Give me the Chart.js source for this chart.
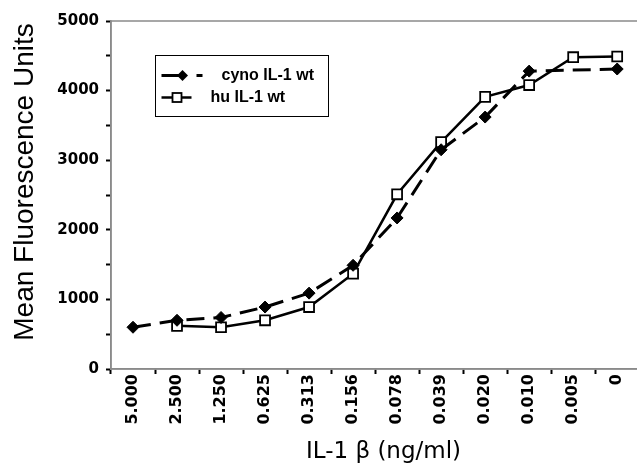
<!DOCTYPE html>
<html>
<head>
<meta charset="utf-8">
<script src="https://cdn.jsdelivr.net/npm/chart.js@4.4.0/dist/chart.umd.min.js"></script>
<style>
    html, body { margin: 0; padding: 0; background: #fff; overflow: hidden; }
    #wrap { width: 648px; height: 468px; }
</style>
</head>
<body>
<div id="wrap"><canvas id="fluorChart" width="648" height="468"></canvas></div>
<script>
// Data
const doseLabels = ['5.000', '2.500', '1.250', '0.625', '0.313', '0.156', '0.078', '0.039', '0.020', '0.010', '0.005', '0'];
const cynoValues = [600, 700, 740, 890, 1090, 1490, 2170, 3150, 3620, 4280, null, 4310];
const huValues = [null, 620, 600, 700, 890, 1370, 2510, 3260, 3910, 4080, 4480, 4490];
const seriesNames = ['cyno IL-1 wt', 'hu IL-1 wt'];
const xTitle = 'IL-1 β (ng/ml)';
const yTitle = 'Mean Fluorescence Units';

const axisGray = '#8a8a8a';

// Frame around the plot area (top line is visible in the original)
const plotFrame = {
    id: 'plotFrame',
    beforeDatasetsDraw(chart) {
        const { ctx, chartArea: ca } = chart;
        ctx.save();
        ctx.strokeStyle = axisGray;
        ctx.lineWidth = 1.5;
        ctx.strokeRect(ca.left, ca.top, ca.right - ca.left, ca.bottom - ca.top);
        ctx.restore();
    }
};

// Axis titles, placed a bit off-centre like the original
const axisTitles = {
    id: 'axisTitles',
    afterDraw(chart) {
        const { ctx, chartArea: ca } = chart;
        ctx.save();
        ctx.fillStyle = '#000';
        ctx.textAlign = 'center';
        ctx.textBaseline = 'alphabetic';

        ctx.font = '23px "DejaVu Sans", sans-serif';
        ctx.fillText(xTitle, 383.5, ca.bottom + 89);

        ctx.font = '28px "Liberation Sans", Arial, sans-serif';
        ctx.translate(33, ca.top + (ca.bottom - ca.top) / 2 - 13);
        ctx.rotate(-Math.PI / 2);
        ctx.fillText(yTitle, 0, 0);
        ctx.restore();
    }
};

// Legend box drawn inside the plot, Excel style
const legendBox = {
    id: 'legendBox',
    afterDraw(chart) {
        const { ctx, chartArea: ca } = chart;
        const x = Math.round(ca.left + 44) + 0.5;
        const y = Math.round(ca.top + 34) + 0.5;
        const r1 = y + 20, r2 = y + 42;

        ctx.save();
        ctx.fillStyle = '#fff';
        ctx.fillRect(x, y, 173, 61);
        ctx.strokeStyle = '#000';
        ctx.lineWidth = 1;
        ctx.strokeRect(x, y, 173, 61);

        // cyno sample: dashed line + filled diamond
        ctx.lineWidth = 3;
        ctx.beginPath();
        ctx.moveTo(x + 6, r1); ctx.lineTo(x + 24, r1);
        ctx.moveTo(x + 41, r1); ctx.lineTo(x + 47, r1);
        ctx.stroke();
        ctx.fillStyle = '#000';
        ctx.beginPath();
        ctx.moveTo(x + 27, r1 - 5.5);
        ctx.lineTo(x + 32.5, r1);
        ctx.lineTo(x + 27, r1 + 5.5);
        ctx.lineTo(x + 21.5, r1);
        ctx.closePath();
        ctx.fill();

        // hu sample: solid line + open square
        ctx.lineWidth = 2.5;
        ctx.beginPath();
        ctx.moveTo(x + 6, r2); ctx.lineTo(x + 36, r2);
        ctx.stroke();
        ctx.fillStyle = '#fff';
        ctx.lineWidth = 1.8;
        ctx.fillRect(x + 17, r2 - 4.5, 9, 9);
        ctx.strokeRect(x + 17, r2 - 4.5, 9, 9);

        ctx.fillStyle = '#000';
        ctx.font = 'bold 16px "Liberation Sans", Arial, sans-serif';
        ctx.textBaseline = 'middle';
        ctx.fillText(seriesNames[0], x + 66, r1);
        ctx.fillText(seriesNames[1], x + 55, r2);
        ctx.restore();
    }
};

const ctx = document.getElementById('fluorChart').getContext('2d');
const chart = new Chart(ctx, {
    type: 'line',
    data: {
        labels: doseLabels,
        datasets: [
            {
                label: seriesNames[0],
                data: cynoValues,
                borderColor: '#000',
                backgroundColor: '#000',
                borderWidth: 3,
                borderDash: [18, 9],
                pointStyle: 'rectRot',
                pointRadius: 6,
                pointBorderWidth: 1,
                pointBackgroundColor: '#000',
                pointBorderColor: '#000',
                spanGaps: true,
                tension: 0
            },
            {
                label: seriesNames[1],
                data: huValues,
                borderColor: '#000',
                backgroundColor: '#fff',
                borderWidth: 2.5,
                pointStyle: 'rect',
                pointRadius: 7,
                pointBorderWidth: 1.8,
                pointBackgroundColor: '#fff',
                pointBorderColor: '#000',
                tension: 0
            }
        ]
    },
    options: {
        responsive: false,
        animation: false,
        layout: { padding: { top: 21, right: 2, left: 0, bottom: 0 } },
        scales: {
            x: {
                offset: true,
                afterFit: (scale) => { scale.height = 99; },
                grid: {
                    offset: true,
                    drawOnChartArea: false,
                    tickLength: 5,
                    tickWidth: 2,
                    tickColor: '#000'
                },
                border: { color: axisGray, width: 1.5 },
                ticks: {
                    minRotation: 90,
                    maxRotation: 90,
                    padding: 0,
                    color: '#000',
                    font: { family: '"DejaVu Sans", sans-serif', weight: 'bold', size: 16 }
                },
                title: { display: false }
            },
            y: {
                min: 0,
                max: 5000,
                afterFit: (scale) => { scale.width = 111; },
                grid: {
                    drawOnChartArea: false,
                    tickLength: 5,
                    tickWidth: 2,
                    tickColor: '#000'
                },
                border: { color: axisGray, width: 1.5 },
                ticks: {
                    stepSize: 500,
                    padding: 7,
                    color: '#000',
                    font: { family: '"DejaVu Sans", sans-serif', weight: 'bold', size: 15 },
                    callback: (v) => (v % 1000 === 0 ? String(v) : '')
                },
                title: { display: false }
            }
        },
        plugins: {
            legend: { display: false },
            tooltip: { enabled: false }
        }
    },
    plugins: [plotFrame, axisTitles, legendBox]
});
</script>
</body>
</html>
